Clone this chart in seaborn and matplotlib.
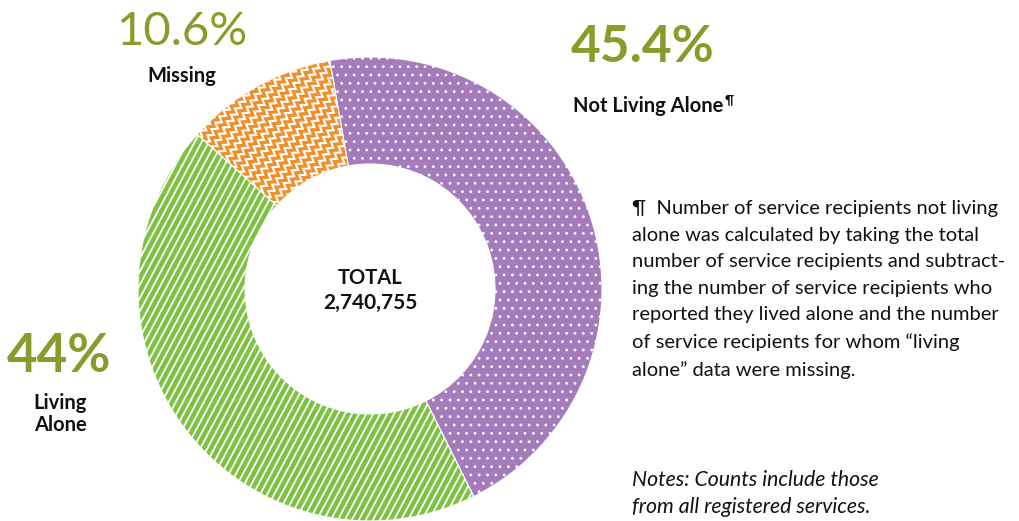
import numpy as np
import matplotlib
matplotlib.use("Agg")
import matplotlib.pyplot as plt
import seaborn as sns

# Living-alone status of service recipients
categories = ["Not Living Alone", "Living Alone", "Missing"]
shares = [45.4, 44.0, 10.6]
share_labels = ["45.4%", "44%", "10.6%"]
total_label = "2,740,755"
colors = ["#A57CBB", "#7DC242", "#F0902B"]

footnote = ("\u00b6  Number of service recipients not living\n"
            "alone was calculated by taking the total\n"
            "number of service recipients and subtract-\n"
            "ing the number of service recipients who\n"
            "reported they lived alone and the number\n"
            "of service recipients for whom \u201cliving\n"
            "alone\u201d data were missing.")
notes = "Notes: Counts include those\nfrom all registered services."

sns.set_theme(style="white")
plt.rcParams["font.family"] = ["Lato", "DejaVu Sans"]
plt.rcParams["hatch.color"] = "white"
plt.rcParams["hatch.linewidth"] = 0.8

W, H = 1019, 521
fig = plt.figure(figsize=(W / 100, H / 100), dpi=100)
ax = fig.add_axes([0, 0, 1, 1])

cx, cy, r_out, ring = 370, H - 289, 232, 107
wedges, _ = ax.pie(shares, colors=colors, startangle=100, counterclock=False,
                   center=(cx, cy), radius=r_out,
                   wedgeprops=dict(width=ring, edgecolor="white", linewidth=0.8))
ax.set_xlim(0, W)
ax.set_ylim(0, H)
ax.set_aspect("equal")
ax.axis("off")

# dotted texture on the first wedge
wedges[0].set_hatch("..")


def line_texture(patch, angle_deg, spacing, amp=0.0, period=8.0, lw=1.2):
    """Parallel white lines (straight or zig-zag) clipped to a wedge."""
    th = np.deg2rad(angle_deg)
    u = np.array([np.cos(th), np.sin(th)])
    n = np.array([-np.sin(th), np.cos(th)])
    L = r_out * 1.2
    if amp:
        t = np.arange(-L, L + period, period / 2.0)
        wiggle = np.where(np.arange(len(t)) % 2 == 0, amp, -amp)
    else:
        t = np.array([-L, L])
        wiggle = np.zeros(2)
    for k in np.arange(-L, L, spacing):
        pts = (np.array([cx, cy])[None, :] + t[:, None] * u[None, :]
               + (k + wiggle)[:, None] * n[None, :])
        ln, = ax.plot(pts[:, 0], pts[:, 1], color="white", lw=lw,
                      solid_joinstyle="miter")
        ln.set_clip_path(patch)


line_texture(wedges[1], 62, 6.2, lw=1.3)
line_texture(wedges[2], 58, 9.0, amp=2.6, period=7.5, lw=1.5)

olive = "#8A9A2B"
tc = "#111111"


def fy(y):
    return H - y


ax.text(643, fy(48), share_labels[0], color=olive, fontsize=37, fontweight="bold",
        ha="center", va="center")
nla = ax.text(573, fy(106), categories[0], color=tc, fontsize=14.5,
              fontweight="bold", ha="left", va="center")
ax.text(59, fy(357), share_labels[1], color=olive, fontsize=38, fontweight="bold",
        ha="center", va="center")
ax.text(60, fy(414), "Living\nAlone", color=tc, fontsize=14.5, fontweight="bold",
        ha="center", va="center", linespacing=1.15)
ax.text(182, fy(32), share_labels[2], color=olive, fontsize=34,
        ha="center", va="center")
ax.text(182, fy(76), categories[2], color=tc, fontsize=14.5, fontweight="bold",
        ha="center", va="center")

ax.text(cx, fy(278), "TOTAL", color=tc, fontsize=14.5, fontweight="bold",
        ha="center", va="center")
ax.text(cx, fy(303), total_label, color=tc, fontsize=15, fontweight="bold",
        ha="center", va="center")

# small pilcrow marker after the "Not Living Alone" label
fig.canvas.draw()
bb = nla.get_window_extent(fig.canvas.get_renderer())
ax.text(bb.x1 + 1, fy(100), "\u00b6", color=tc, fontsize=9, fontweight="bold",
        ha="left", va="center")

ax.text(632, fy(200), footnote, color=tc, fontsize=14.5, ha="left", va="top",
        linespacing=1.68)
ax.text(632, fy(470), notes, color=tc, fontsize=15.3, style="italic",
        ha="left", va="top", linespacing=1.42)

fig.savefig("out.png", dpi=100, facecolor="white")
